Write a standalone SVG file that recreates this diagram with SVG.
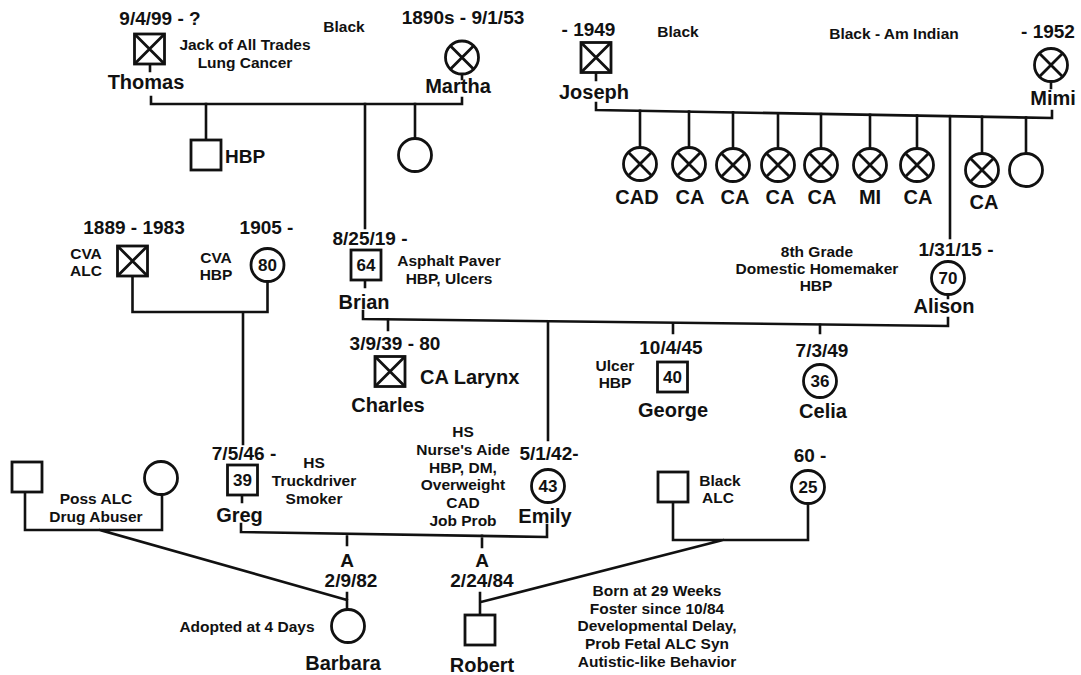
<svg xmlns="http://www.w3.org/2000/svg" width="1081" height="675" viewBox="0 0 1081 675">
<style>
.l{fill:none;stroke:#111;stroke-width:2.6;stroke-linecap:square}
.s{fill:#fff;stroke:#111;stroke-width:2.8}
.x{stroke:#111;stroke-width:2.8}
text{font-family:"Liberation Sans",Arial,sans-serif;font-weight:bold;fill:#111;text-anchor:middle}
.n{font-size:20px}
.d{font-size:19px}
.t{font-size:15.5px}
.a{font-size:17px}
.st{text-anchor:start}
</style>
<defs>
<g id="sq"><rect class="s" x="-15" y="-15" width="30" height="30"/></g>
<g id="ci"><circle class="s" r="16.5"/></g>
<g id="sqX"><rect class="s" x="-15" y="-15" width="30" height="30"/><path class="x" d="M-15,-15L15,15M15,-15L-15,15"/></g>
<g id="ciX"><circle class="s" r="16.5"/><path class="x" d="M-11.7,-11.7L11.7,11.7M11.7,-11.7L-11.7,11.7"/></g>
</defs>
<rect width="1081" height="675" fill="#fff"/>
<g id="connectors">
<path class="l" d="M150,64V71M462,74V79M151,97V104H462V98"/>
<path class="l" d="M206,104V139M415,104V138M365,104V228"/>
<path class="l" d="M596,73V80M1051,82V88M596,103V110L1052,118V111"/>
<path class="l" d="M640,110.8V147M689,111.6V147M733,112.4V147M778,113.2V147M821,114V147M870,114.8V147M917,115.6V147M982,116.8V153M1026,117.5V153"/>
<path class="l" d="M950,116.2V238"/>
<path class="l" d="M132.5,276V312H267.5V282M243,312V444"/>
<path class="l" d="M365,280V287M363,311V319L948,326V318M948,295V298"/>
<path class="l" d="M388,319.4V330M548,322V440M673,323.5V333M820,324.8V333"/>
<path class="l" d="M242,495V502M241,524V532L547,537V525M347,533.8V545M482,535.9V547"/>
<path class="l" d="M25,492V530H162V495M100,530L347,600M347,593V609"/>
<path class="l" d="M480,593V615M481,602L723,540M673,502V540H808V504"/>
</g>
<g id="thomas"><text class="d" x="160" y="25">9/4/99 - ?</text><use href="#sqX" x="149.5" y="49"/><text class="t" x="245" y="49.5">Jack of All Trades</text><text class="t" x="245" y="67.5">Lung Cancer</text><text class="n" x="146" y="89">Thomas</text></g>
<g id="black1"><text class="t" x="344" y="31.5">Black</text></g>
<g id="martha"><text class="d" x="463" y="24">1890s - 9/1/53</text><use href="#ciX" x="462" y="57.5"/><text class="n" x="458" y="93">Martha</text></g>
<g id="hbpson"><use href="#sq" x="206" y="155"/><text class="d st" x="225" y="163">HBP</text></g>
<g id="daughter1"><use href="#ci" x="415" y="155"/></g>
<g id="joseph"><text class="d" x="588.5" y="35.5">- 1949</text><use href="#sqX" x="596" y="57.5"/><text class="n" x="594" y="99">Joseph</text></g>
<g id="black2"><text class="t" x="678" y="37">Black</text></g>
<g id="black3"><text class="t" x="894" y="38.5">Black - Am Indian</text></g>
<g id="mimi"><text class="d" x="1048" y="38">- 1952</text><use href="#ciX" x="1051" y="65"/><text class="n" x="1053" y="105">Mimi</text></g>
<g id="sib1"><use href="#ciX" x="640" y="164"/><text class="n" x="637" y="204">CAD</text></g>
<g id="sib2"><use href="#ciX" x="689" y="164"/><text class="n" x="690" y="204">CA</text></g>
<g id="sib3"><use href="#ciX" x="733" y="165"/><text class="n" x="735" y="204">CA</text></g>
<g id="sib4"><use href="#ciX" x="778" y="165"/><text class="n" x="780" y="204">CA</text></g>
<g id="sib5"><use href="#ciX" x="821" y="165"/><text class="n" x="822" y="204">CA</text></g>
<g id="sib6"><use href="#ciX" x="870" y="165"/><text class="n" x="870" y="204">MI</text></g>
<g id="sib7"><use href="#ciX" x="917" y="165"/><text class="n" x="918" y="204">CA</text></g>
<g id="sib8"><use href="#ciX" x="982" y="170"/><text class="n" x="984" y="209">CA</text></g>
<g id="sib9"><use href="#ci" x="1026" y="170"/></g>
<g id="gpa"><text class="d" x="134" y="234">1889 - 1983</text><text class="t" x="86" y="258.5">CVA</text><text class="t" x="86" y="275.5">ALC</text><use href="#sqX" x="132.5" y="261"/></g>
<g id="gma"><text class="d" x="266.5" y="234">1905 -</text><text class="t" x="216" y="263">CVA</text><text class="t" x="216" y="280">HBP</text><use href="#ci" x="267.5" y="265"/><text class="a" x="267.5" y="271">80</text></g>
<g id="brian"><text class="d" x="370" y="245">8/25/19 -</text><use href="#sq" x="366" y="265"/><text class="a" x="366" y="271">64</text><text class="t" x="449" y="266">Asphalt Paver</text><text class="t" x="449" y="284">HBP, Ulcers</text><text class="n" x="364" y="309">Brian</text></g>
<g id="alison"><text class="t" x="817" y="257">8th Grade</text><text class="t" x="817" y="274">Domestic Homemaker</text><text class="t" x="816" y="291">HBP</text><text class="d" x="956" y="256">1/31/15 -</text><use href="#ci" x="948" y="278"/><text class="a" x="948" y="284">70</text><text class="n" x="944" y="313">Alison</text></g>
<g id="charles"><text class="d" x="395" y="350">3/9/39 - 80</text><use href="#sqX" x="390" y="371.5"/><text class="n st" x="420" y="384">CA Larynx</text><text class="n" x="388" y="412">Charles</text></g>
<g id="george"><text class="d" x="671" y="354">10/4/45</text><text class="t" x="615" y="371">Ulcer</text><text class="t" x="615" y="388">HBP</text><use href="#sq" x="672.5" y="377"/><text class="a" x="672.5" y="383">40</text><text class="n" x="673" y="417">George</text></g>
<g id="celia"><text class="d" x="822" y="357">7/3/49</text><use href="#ci" x="820" y="381"/><text class="a" x="820" y="387">36</text><text class="n" x="823" y="418">Celia</text></g>
<g id="greg"><text class="d" x="244" y="460">7/5/46 -</text><use href="#sq" x="242.5" y="480"/><text class="a" x="242.5" y="486">39</text><text class="t" x="314" y="468">HS</text><text class="t" x="314" y="486">Truckdriver</text><text class="t" x="314" y="504">Smoker</text><text class="n" x="239.5" y="522">Greg</text></g>
<g id="emily"><text class="t" x="463" y="437">HS</text><text class="t" x="463" y="455">Nurse's Aide</text><text class="t" x="463" y="472.5">HBP, DM,</text><text class="t" x="463" y="490">Overweight</text><text class="t" x="463" y="508">CAD</text><text class="t" x="463" y="525.5">Job Prob</text><text class="d" x="549" y="460">5/1/42-</text><use href="#ci" x="548" y="486"/><text class="a" x="548" y="492">43</text><text class="n" x="545" y="523">Emily</text></g>
<g id="bfather"><use href="#sq" x="27" y="477"/></g>
<g id="bmother"><use href="#ci" x="161" y="478"/><text class="t" x="96" y="504">Poss ALC</text><text class="t" x="96" y="522">Drug Abuser</text></g>
<g id="barbara"><text class="d" x="347" y="567">A</text><text class="d" x="351" y="587">2/9/82</text><use href="#ci" x="348" y="626"/><text class="t" x="247" y="632">Adopted at 4 Days</text><text class="n" x="343" y="670">Barbara</text></g>
<g id="robert"><text class="d" x="482" y="567">A</text><text class="d" x="482" y="587">2/24/84</text><use href="#sq" x="480" y="630"/><text class="n" x="482" y="672">Robert</text><text class="t" x="657" y="596">Born at 29 Weeks</text><text class="t" x="657" y="614">Foster since 10/84</text><text class="t" x="657" y="631">Developmental Delay,</text><text class="t" x="657" y="649">Prob Fetal ALC Syn</text><text class="t" x="657" y="667">Autistic-like Behavior</text></g>
<g id="rfather"><use href="#sq" x="673" y="487"/><text class="t" x="720" y="486">Black</text><text class="t" x="718" y="503">ALC</text></g>
<g id="rmother"><text class="d" x="810" y="462">60 -</text><use href="#ci" x="808" y="487"/><text class="a" x="808" y="493">25</text></g>
</svg>
